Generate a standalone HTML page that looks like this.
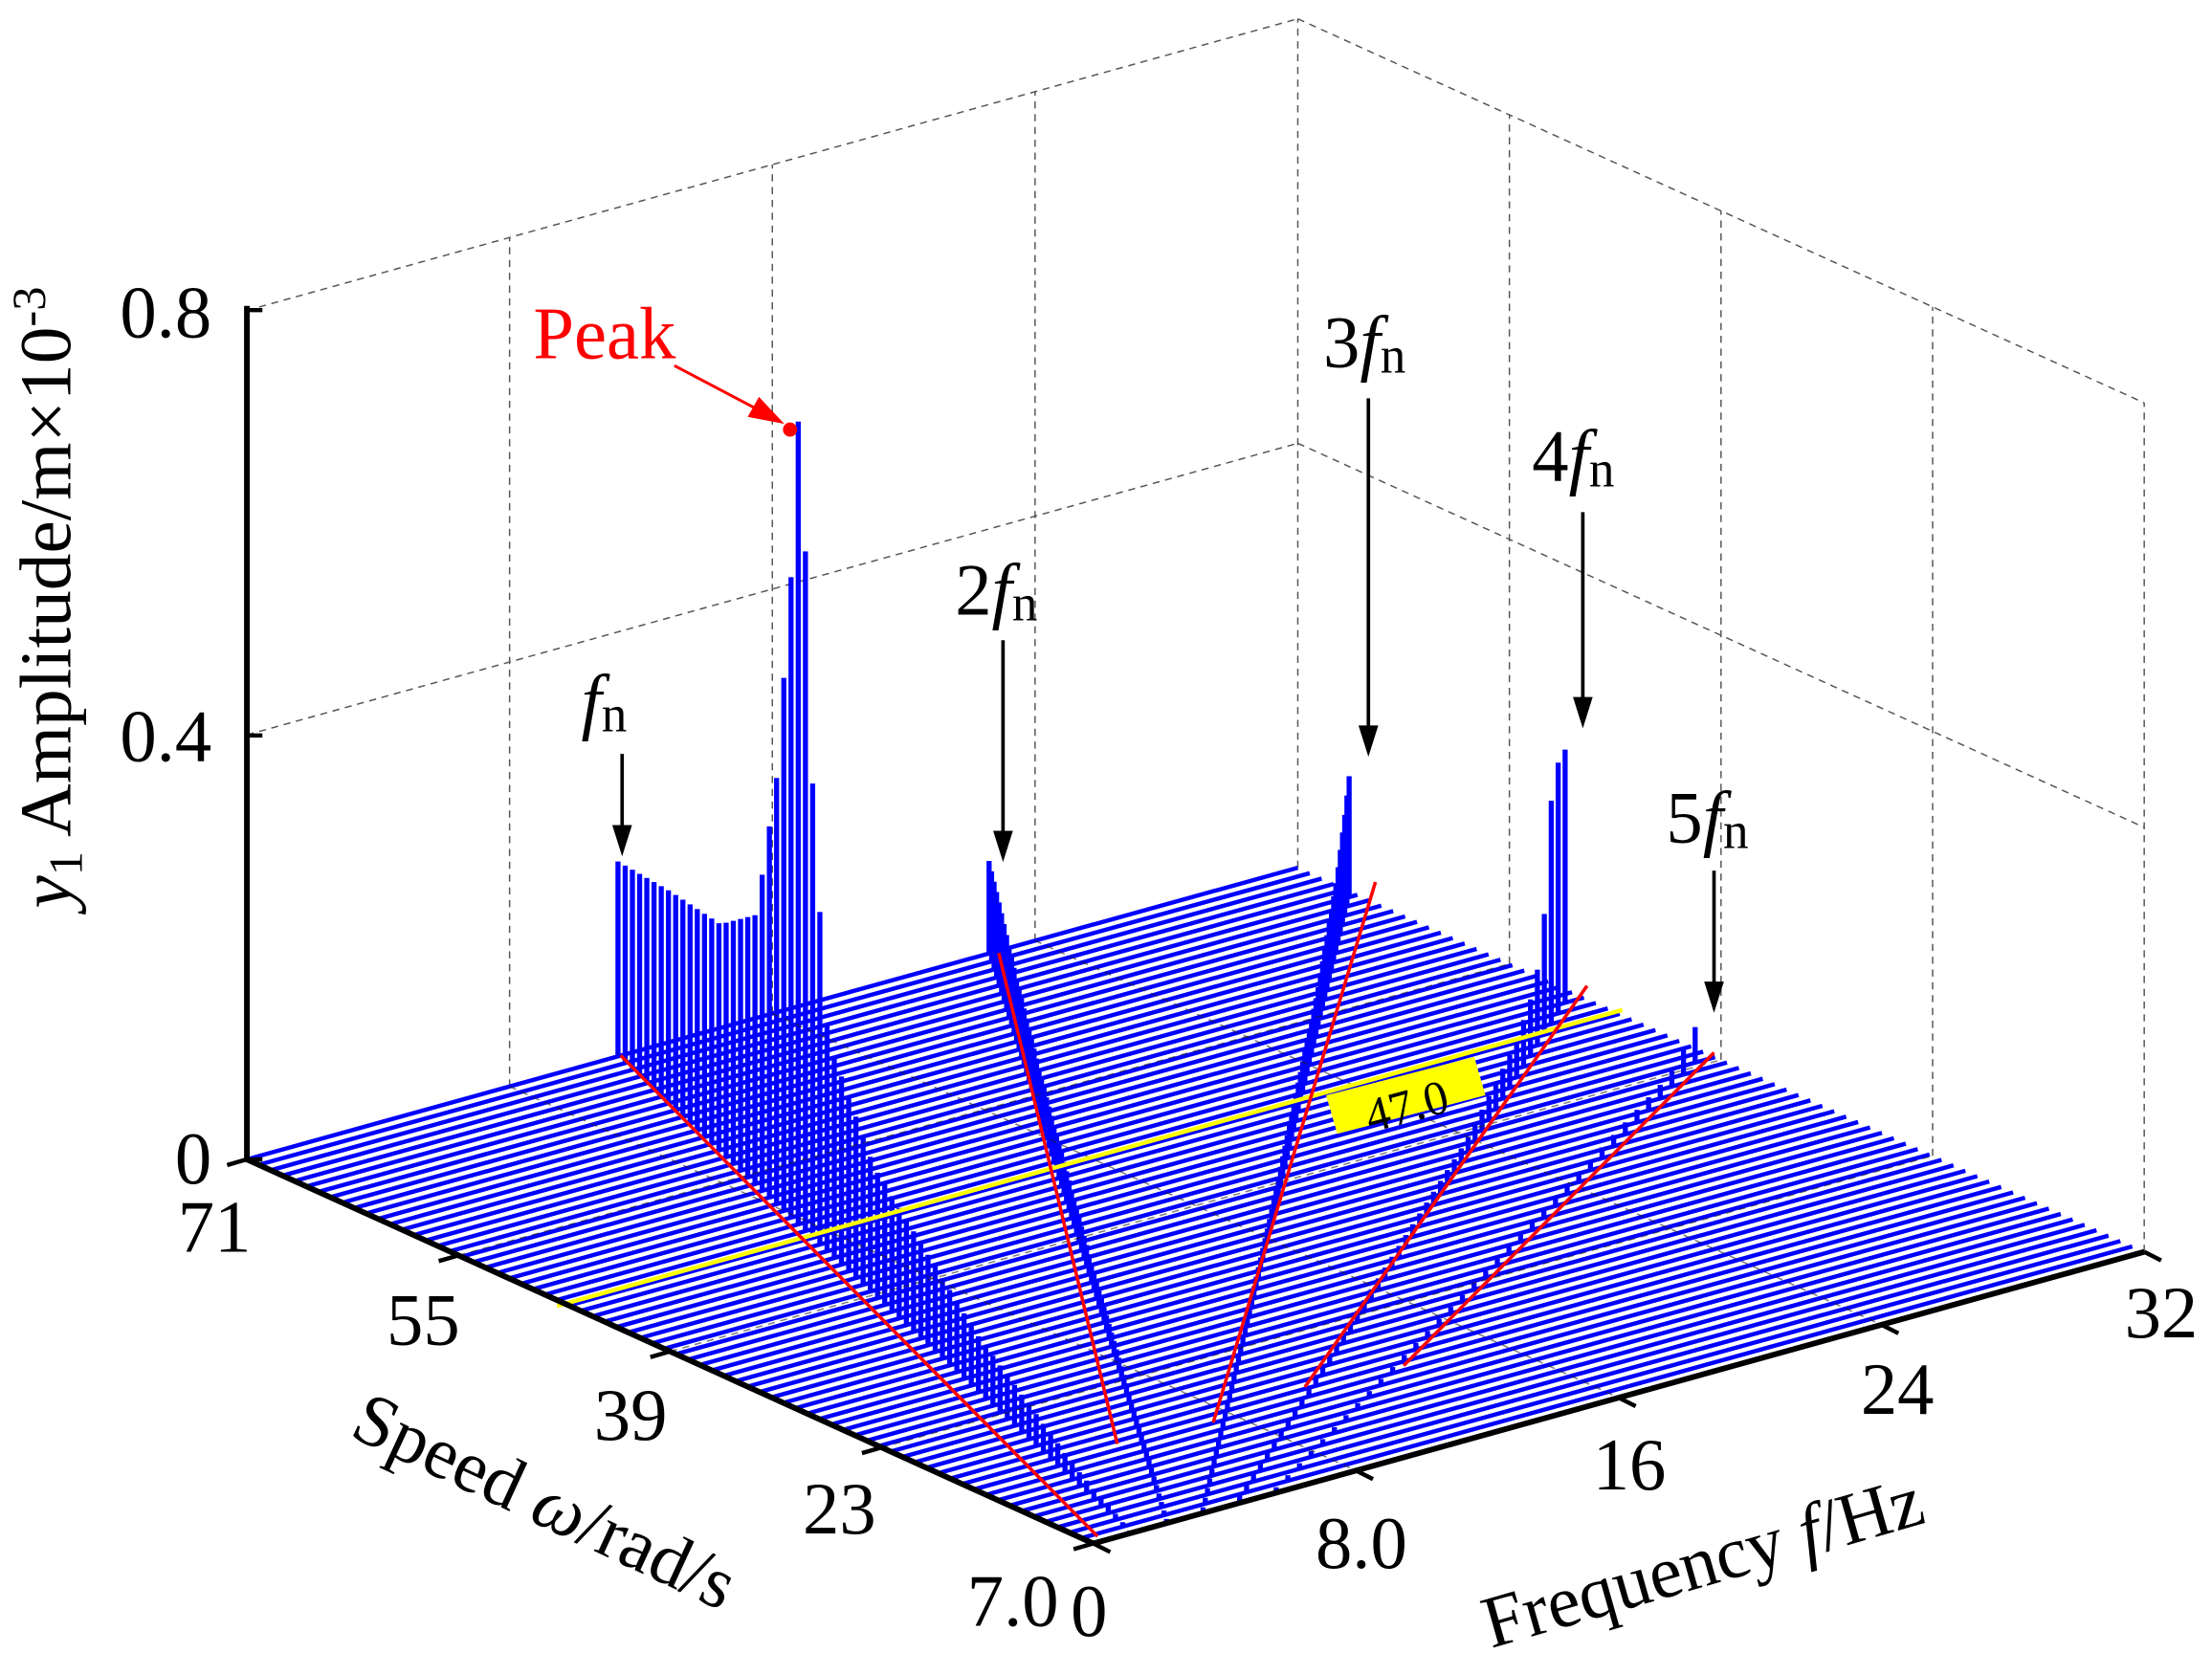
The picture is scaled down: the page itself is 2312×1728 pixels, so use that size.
<!DOCTYPE html>
<html><head><meta charset="utf-8"><style>
html,body{margin:0;padding:0;background:#fff;}
svg{display:block;}
svg text{font-family:"Liberation Serif","Times New Roman",Times,"DejaVu Serif",serif !important;}
</style></head><body>
<svg id="s" width="2312" height="1728" viewBox="0 0 1568 1162" preserveAspectRatio="none" xmlns="http://www.w3.org/2000/svg">
<g id="grid" stroke="#555" stroke-width="1" stroke-dasharray="5,4" fill="none"></g>
<g id="surf"></g>
<g id="over"></g>
<g id="axes" stroke="#000" fill="none"></g>
<g id="lab"></g>
</svg>
<script>
var NS="http://www.w3.org/2000/svg";
function P(f,w,z){return [175+f*23.28+(71-w)*9.375, 815-f*6.406+(71-w)*4.219-(z||0)*746];}
function el(p,tag,at){var e=document.createElementNS(NS,tag);for(var k in at)e.setAttribute(k,at[k]);p.appendChild(e);return e;}
function line(p,a,b,at){at=at||{};at.x1=a[0];at.y1=a[1];at.x2=b[0];at.y2=b[1];return el(p,'line',at);}
var G=document.getElementById('grid'),S=document.getElementById('surf'),O=document.getElementById('over'),A=document.getElementById('axes'),L=document.getElementById('lab');
[8,16,24,32].forEach(function(f){line(G,P(f,71,0),P(f,71,0.8));});
[55,39,23,7].forEach(function(w){line(G,P(32,w,0),P(32,w,0.8));});
[0.4,0.8].forEach(function(z){line(G,P(0,71,z),P(32,71,z));line(G,P(32,71,z),P(32,7,z));});
function interp(pts,t){if(t<=pts[0][0])return pts[0][1];for(var i=1;i<pts.length;i++){if(t<=pts[i][0]){var a=pts[i-1],b=pts[i];return a[1]+(b[1]-a[1])*(t-a[0])/(b[0]-a[0]);}}return pts[pts.length-1][1];}
var H=[null,
 [[0,137],[0.1,150],[0.2,160],[0.27,190],[0.31,300],[0.338,450],[0.352,565],[0.366,480],[0.382,300],[0.41,150],[0.5,90],[0.7,40],[0.9,10],[1,2]],
 [[0,65],[0.06,58],[0.15,45],[0.3,30],[0.6,12],[1,3]],
 [[0,85],[0.03,70],[0.08,50],[0.2,28],[0.5,10],[1,3]],
 [[0,178],[0.025,175],[0.04,90],[0.06,45],[0.1,25],[0.2,10],[1,2]],
 [[0,25],[0.03,10],[0.2,5],[1,2]]];
var N=72;
var first=[0,-1,-1,-1,-1,-1];
for(var i=0;i<N;i++){
  var w=71-i*64/(N-1),t=i/(N-1);
  line(S,P(0,w),P(32,w),{stroke:'#0000ff','stroke-width':3});
  for(var k=1;k<=5;k++){
    var f=k*w/(2*Math.PI);
    if(f>32)continue;
    if(first[k]<0)first[k]=t;
    var h=interp(H[k],t-first[k]);
    var b=P(f,w);
    el(S,'rect',{x:b[0]-1.8,y:b[1]-h,width:3.6,height:h,fill:'#0000ff'});
  }
}
[8,16,24].forEach(function(f){line(O,P(f,71),P(f,7),{stroke:'#222','stroke-width':1,'stroke-dasharray':'5,4',opacity:0.6});});
[55,39,23].forEach(function(w){line(O,P(0,w),P(32,w),{stroke:'#222','stroke-width':1,'stroke-dasharray':'5,4',opacity:0.6});});
line(O,[395,918],[1150,710],{stroke:'#ffff00','stroke-width':3});
el(O,'polygon',{points:'940,770 1045,743 1053,770 948,797',fill:'#ffff00'});
var FF="font-family:'Liberation Serif','Times New Roman',Times,serif";
el(O,'text',{x:997,y:789,'font-size':34,'text-anchor':'middle',transform:'rotate(-15 997 777)',style:FF}).textContent='47.0';
[[[440,742],[778,1080]],[[708,670],[792,1015]],[[975,620],[860,1000]],[[1125,693],[925,975]],[[1215,740],[995,960]]].forEach(function(s){line(O,s[0],s[1],{stroke:'#ff0000','stroke-width':2.4});});
line(A,[175,215],[175,817],{'stroke-width':4});
[218,517,815].forEach(function(y){line(A,[175,y],[186,y],{'stroke-width':3});});
line(A,P(0,71),P(0,7),{'stroke-width':4});
line(A,P(0,7),P(32,7),{'stroke-width':4});
[71,55,39,23,7].forEach(function(w){var a=P(0,w);line(A,a,[a[0]-14,a[1]+4],{'stroke-width':3});});
[0,8,16,24,32].forEach(function(f){var a=P(f,7);line(A,a,[a[0]+12,a[1]+6],{'stroke-width':3});});
function T(x,y,s,txt,at){at=at||{};at.x=x;at.y=y;at['font-size']=s;at.style=FF;var e=el(L,'text',at);e.innerHTML=txt;return e;}
var FS=52;
T(150,237,FS,'0.8',{'text-anchor':'end'});
T(150,535,FS,'0.4',{'text-anchor':'end'});
T(150,832,FS,'0',{'text-anchor':'end'});
T(50,420,FS,'<tspan font-style="italic">y</tspan><tspan font-size="34" dy="8">1</tspan><tspan dy="-8"> Amplitude/m×10</tspan><tspan font-size="34" dy="-18">-3</tspan>',{'text-anchor':'middle',transform:'rotate(-90 50 420)'});
T(152,880,FS,'71',{'text-anchor':'middle'});
T(300,945,FS,'55',{'text-anchor':'middle'});
T(447,1012,FS,'39',{'text-anchor':'middle'});
T(595,1078,FS,'23',{'text-anchor':'middle'});
T(718,1143,FS,'7.0',{'text-anchor':'middle'});
T(385,1072,FS,'Speed  <tspan font-style="italic">ω</tspan>/rad/s',{'text-anchor':'middle',transform:'rotate(25 385 1058)'});
T(772,1150,FS,'0',{'text-anchor':'middle'});
T(965,1102,FS,'8.0',{'text-anchor':'middle'});
T(1155,1047,FS,'16',{'text-anchor':'middle'});
T(1345,994,FS,'24',{'text-anchor':'middle'});
T(1532,940,FS,'32',{'text-anchor':'middle'});
T(1207,1115,FS,'Frequency  <tspan font-style="italic">f</tspan>/Hz',{'text-anchor':'middle',transform:'rotate(-16 1207 1098)'});
T(378,252,FS,'Peak',{fill:'#ff0000'});
line(L,[478,257],[545,292],{stroke:'#ff0000','stroke-width':2});
el(L,'polygon',{points:'556,298 530,293 538,279',fill:'#ff0000'});
el(L,'circle',{cx:560,cy:302,r:5,fill:'#ff0000'});
function ann(x,y1,y2,tx,ty,pre){
  line(L,[x,y1],[x,y2-18],{stroke:'#000','stroke-width':2.5});
  el(L,'polygon',{points:(x-7)+','+(y2-22)+' '+(x+7)+','+(y2-22)+' '+x+','+y2,fill:'#000'});
  T(tx,ty,FS,pre+'<tspan font-style="italic">f</tspan><tspan font-size="36" dy="4">n</tspan>');
}
ann(441,530,602,412,510,'');
ann(711,450,606,677,432,'2');
ann(970,280,532,938,258,'3');
ann(1122,360,512,1086,338,'4');
ann(1215,612,712,1181,592,'5');
</script>
</body></html>
